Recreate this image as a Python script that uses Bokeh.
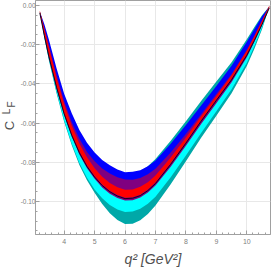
import math
from bokeh.plotting import figure
from bokeh.layouts import row
from bokeh.models import Range1d, FixedTicker, NumeralTickFormatter
from bokeh.core.properties import value
from bokeh.embed import file_html
from bokeh.resources import INLINE

# q^2 sample points [GeV^2]
q2 = [3.2, 3.35, 3.5, 3.75, 4.0, 4.25, 4.5, 4.75, 5.0, 5.25, 5.5, 5.75, 6.0,
      6.25, 6.5, 6.75, 7.0, 7.5, 8.0, 8.5, 9.0, 9.5, 10.0, 10.25, 10.5, 10.74]

# central value (also hidden inner edge of cyan / blue bands)
center = [-0.0030, -0.0135, -0.0235, -0.0390, -0.0525, -0.0635, -0.0725, -0.0795,
          -0.0850, -0.0893, -0.0925, -0.0947, -0.0960, -0.0958, -0.0945, -0.0920,
          -0.0885, -0.0790, -0.0685, -0.0575, -0.0470, -0.0365, -0.0240, -0.0165,
          -0.0085, -0.0005]

teal_hi = [-0.0030, -0.0115, -0.0205, -0.0350, -0.0475, -0.0580, -0.0665, -0.0730,
           -0.0780, -0.0818, -0.0845, -0.0862, -0.0870, -0.0863, -0.0847, -0.0820,
           -0.0783, -0.0690, -0.0590, -0.0487, -0.0388, -0.0289, -0.0172, -0.0110,
           -0.0050, -0.0005]
teal_lo = [-0.0030, -0.0165, -0.0280, -0.0448, -0.0593, -0.0713, -0.0813, -0.0891,
           -0.0955, -0.1013, -0.1060, -0.1094, -0.1115, -0.1113, -0.1095, -0.1063,
           -0.1020, -0.0912, -0.0795, -0.0675, -0.0562, -0.0447, -0.0308, -0.0220,
           -0.0121, -0.0005]

cyan_hi = center
cyan_lo = [-0.0030, -0.0163, -0.0275, -0.0440, -0.0585, -0.0705, -0.0803, -0.0879,
           -0.0938, -0.0983, -0.1017, -0.1040, -0.1053, -0.1051, -0.1037, -0.1011,
           -0.0975, -0.0876, -0.0765, -0.0650, -0.0540, -0.0427, -0.0292, -0.0207,
           -0.0113, -0.0005]

blue_hi = [-0.0030, -0.0095, -0.0175, -0.0320, -0.0450, -0.0550, -0.0635, -0.0700,
           -0.0750, -0.0788, -0.0815, -0.0837, -0.0850, -0.0848, -0.0840, -0.0820,
           -0.0790, -0.0705, -0.0610, -0.0510, -0.0410, -0.0307, -0.0185, -0.0120,
           -0.0055, -0.0005]
blue_lo = center

purple_hi = [-0.0030, -0.0115, -0.0203, -0.0355, -0.0488, -0.0595, -0.0680, -0.0747,
             -0.0795, -0.0831, -0.0857, -0.0876, -0.0888, -0.0889, -0.0880, -0.0861,
             -0.0833, -0.0750, -0.0655, -0.0555, -0.0452, -0.0349, -0.0226, -0.0153,
             -0.0077, -0.0005]
purple_lo = [-0.0030, -0.0155, -0.0267, -0.0425, -0.0560, -0.0670, -0.0760, -0.0830,
             -0.0884, -0.0928, -0.0960, -0.0982, -0.0995, -0.0993, -0.0979, -0.0954,
             -0.0918, -0.0822, -0.0715, -0.0605, -0.0498, -0.0391, -0.0264, -0.0185,
             -0.0099, -0.0005]

red_hi = [-0.0025, -0.0120, -0.0213, -0.0368, -0.0503, -0.0613, -0.0704, -0.0774,
          -0.0830, -0.0873, -0.0905, -0.0927, -0.0940, -0.0938, -0.0925, -0.0901,
          -0.0867, -0.0775, -0.0673, -0.0565, -0.0461, -0.0356, -0.0231, -0.0157,
          -0.0078, 0.0000]
red_lo = [-0.0035, -0.0150, -0.0257, -0.0412, -0.0547, -0.0657, -0.0746, -0.0816,
          -0.0870, -0.0913, -0.0945, -0.0967, -0.0980, -0.0978, -0.0965, -0.0939,
          -0.0903, -0.0805, -0.0697, -0.0585, -0.0479, -0.0374, -0.0249, -0.0173,
          -0.0092, -0.0010]

dark_line = [-0.0037, -0.0154, -0.0262, -0.0417, -0.0552, -0.0662, -0.0751, -0.0821,
             -0.0875, -0.0918, -0.0950, -0.0972, -0.0985, -0.0983, -0.0970, -0.0944,
             -0.0908, -0.0810, -0.0702, -0.0590, -0.0484, -0.0379, -0.0254, -0.0178,
             -0.0097, -0.0012]

x_ticks = [4, 5, 6, 7, 8, 9, 10]
y_ticks = [0.0, -0.02, -0.04, -0.06, -0.08, -0.10]
x_minor = [round(3.2 + 0.2 * i, 2) for i in range(39)]
y_minor = [round(-0.115 + 0.005 * i, 3) for i in range(24)]

x_label = "q² [GeV²]"
y_label_main, y_label_sup, y_label_sub = "C", "L", "F"

lab_col = "#505050"
axis_col = "#a0a0a0"
H = 273
BOTTOM = 39
LAB_W = 17

# ---- main plot ----
p = figure(width=H - LAB_W, height=H, output_backend="svg", toolbar_location=None,
           x_range=Range1d(3.059, 10.778), y_range=Range1d(-0.1168, 0.00255),
           min_border_left=32 - LAB_W, min_border_right=3, min_border_top=0,
           min_border_bottom=BOTTOM)
p.background_fill_color = "white"
p.border_fill_color = "white"
p.outline_line_color = axis_col

bands = [
    (teal_lo, teal_hi, "#00a8a8"),
    (cyan_lo, cyan_hi, "#00ffff"),
    (blue_lo, blue_hi, "#0000ff"),
    (purple_lo, purple_hi, "#800080"),
    (red_lo, red_hi, "#ff0000"),
]
for lo, hi, col in bands:
    p.varea(x=q2, y1=lo, y2=hi, fill_color=col)
p.line(q2, dark_line, line_color="#1a0020", line_width=1)

for ax in (p.xaxis[0], p.yaxis[0]):
    ax.axis_line_color = axis_col
    ax.major_tick_line_color = axis_col
    ax.minor_tick_line_color = axis_col
    ax.major_tick_in = 4
    ax.major_tick_out = 0
    ax.minor_tick_in = 2
    ax.minor_tick_out = 0
    ax.major_label_text_color = "#808080"
    ax.major_label_text_font = "Liberation Sans"
p.xaxis.major_label_text_font_size = "7px"
p.yaxis.major_label_text_font_size = "6.5px"

p.xaxis.ticker = FixedTicker(ticks=x_ticks, minor_ticks=x_minor)
p.yaxis.ticker = FixedTicker(ticks=y_ticks, minor_ticks=y_minor)
p.yaxis.formatter = NumeralTickFormatter(format="0.00")
p.xaxis.major_label_standoff = 4
p.yaxis.major_label_standoff = 0

p.xaxis.axis_label = x_label
p.xaxis.axis_label_text_font = "Liberation Sans"
p.xaxis.axis_label_text_font_style = "italic"
p.xaxis.axis_label_text_font_size = "14px"
p.xaxis.axis_label_text_color = lab_col
p.xaxis.axis_label_standoff = 4

p.xgrid.ticker = FixedTicker(ticks=x_ticks)
p.ygrid.ticker = FixedTicker(ticks=y_ticks)
p.xgrid.grid_line_color = "#e8e8e8"
p.ygrid.grid_line_color = "#e8e8e8"

# ---- y-axis title strip (C with superscript L and subscript F) ----
# its frame is aligned with the main frame (0..234 px from top),
# so y data = H - pixel row
lab = figure(width=LAB_W, height=H, output_backend="svg", toolbar_location=None,
             title=None, x_range=Range1d(0, LAB_W), y_range=Range1d(BOTTOM, H),
             x_axis_location=None, y_axis_location=None,
             min_border_left=0, min_border_right=0, min_border_top=0,
             min_border_bottom=BOTTOM)
lab.outline_line_color = None
lab.grid.visible = False
lab.background_fill_color = "white"
lab.border_fill_color = "white"
lab.text(x=[8.6], y=[H - 125], text=[y_label_main], angle=math.pi / 2,
         text_align="center", text_baseline="middle",
         text_font=value("Liberation Sans"), text_font_size="13px",
         text_color=lab_col)
lab.text(x=[5.8, 11.2], y=[H - 111, H - 104], text=[y_label_sup, y_label_sub],
         angle=math.pi / 2, text_align="center", text_baseline="middle",
         text_font=value("Liberation Sans"), text_font_size="10px",
         text_color=lab_col)

layout = row(lab, p, spacing=0)
open("out.html", "w").write(file_html(layout, INLINE))
